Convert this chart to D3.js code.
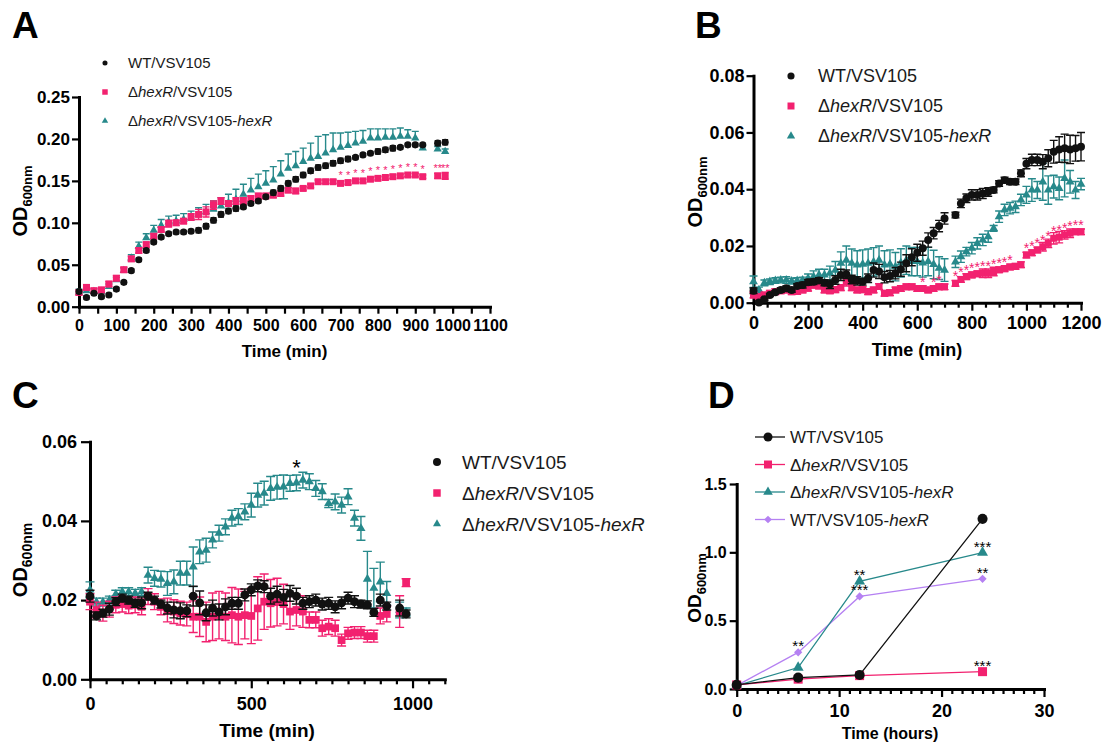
<!DOCTYPE html>
<html>
<head>
<meta charset="utf-8">
<script src="https://cdn.jsdelivr.net/npm/d3@7"></script>
<style>
  body { margin: 0; background: #fff; }
  svg { display: block; font-family: "Liberation Sans", Arial, sans-serif; }
</style>
</head>
<body>
<svg id="fig" width="1102" height="744"></svg>
<script>
// ---- strain names (legend) ----
var strainLabels = ["WT/VSV105", "Δ<i>hexR</i>/VSV105", "Δ<i>hexR</i>/VSV105-<i>hexR</i>", "WT/VSV105-<i>hexR</i>"];

// ---- panel A: growth, time in min ----
var aTime = [0,20,40,60,80,100,120,140,160,180,
  200,220,240,260,280,300,320,340,360,380,
  400,420,440,460,480,500,520,540,560,580,
  600,620,640,660,680,700,720,740,760,780,
  800,820,840,860,880,900,920,960,980];
var aWT = [0.018,0.011,0.016,0.012,0.014,0.021,0.029,0.043,0.056,0.067,
  0.077,0.083,0.087,0.089,0.089,0.090,0.091,0.096,0.103,0.110,
  0.114,0.117,0.119,0.123,0.126,0.131,0.136,0.141,0.147,0.152,
  0.157,0.162,0.166,0.168,0.171,0.174,0.176,0.178,0.181,0.183,
  0.185,0.187,0.189,0.190,0.193,0.193,0.193,0.195,0.196];
var aWTsd = [0.002,0.002,0.002,0.002,0.002,0.002,0.002,0.002,0.002,0.002,
  0.002,0.002,0.002,0.002,0.002,0.002,0.003,0.003,0.003,0.003,
  0.003,0.003,0.002,0.002,0.002,0.002,0.003,0.003,0.003,0.003,
  0.003,0.003,0.003,0.003,0.003,0.003,0.003,0.002,0.002,0.002,
  0.003,0.003,0.003,0.002,0.002,0.002,0.002,0.003,0.003];
var aDel = [0.017,0.023,0.019,0.020,0.027,0.034,0.044,0.057,0.067,0.074,
  0.084,0.092,0.099,0.100,0.102,0.107,0.110,0.113,0.121,0.126,
  0.123,0.126,0.126,0.129,0.132,0.132,0.133,0.135,0.139,0.138,
  0.141,0.144,0.149,0.149,0.149,0.147,0.148,0.150,0.150,0.152,
  0.153,0.154,0.155,0.156,0.157,0.157,0.155,0.156,0.156];
var aDelSd = [0.003,0.003,0.003,0.003,0.003,0.003,0.003,0.003,0.003,0.003,
  0.003,0.003,0.004,0.003,0.003,0.004,0.006,0.006,0.005,0.004,
  0.003,0.004,0.004,0.003,0.003,0.003,0.003,0.003,0.003,0.003,
  0.002,0.002,0.002,0.002,0.002,0.002,0.002,0.002,0.002,0.002,
  0.002,0.002,0.002,0.002,0.002,0.002,0.002,0.003,0.004];
var aComp = [0.017,0.019,0.018,0.018,0.024,0.032,0.043,0.058,0.072,0.082,
  0.091,0.097,0.101,0.102,0.104,0.106,0.110,0.113,0.116,0.120,
  0.124,0.128,0.134,0.139,0.143,0.147,0.151,0.158,0.165,0.168,
  0.173,0.177,0.179,0.183,0.187,0.190,0.192,0.195,0.197,0.201,
  0.201,0.202,0.202,0.203,0.203,0.201,0.189,0.188,0.185];
var aCompSd = [0.004,0.004,0.003,0.003,0.003,0.003,0.003,0.004,0.005,0.005,
  0.006,0.007,0.007,0.007,0.007,0.008,0.008,0.009,0.010,0.010,
  0.010,0.012,0.012,0.014,0.015,0.015,0.016,0.016,0.017,0.017,
  0.016,0.018,0.024,0.022,0.020,0.017,0.016,0.014,0.013,0.011,
  0.011,0.010,0.010,0.010,0.008,0.008,0.003,0.003,0.003];
var aStarTime = [700,720,740,760,780,800,820,840,860,880,900,920,960,980];
var aStarText = ["*","*","*","*","*","*","*","*","*","*","*","*","**","**"];

// ---- panel B ----
var bTime = [0,20,40,60,80,100,120,140,160,180,
  200,220,240,260,280,300,320,340,360,380,
  400,420,440,460,480,500,520,540,560,580,
  600,620,640,660,680,700,740,760,780,800,
  820,840,860,880,900,920,940,960,980,1000,
  1020,1040,1060,1080,1100,1120,1140,1160,1180,1200];
var bWT = [0.0042,0.0001,0.0012,0.0027,0.0037,0.0045,0.0051,0.0045,0.0059,0.0062,
  0.0072,0.0074,0.0078,0.0070,0.0065,0.0080,0.0098,0.0100,0.0082,0.0077,
  0.0074,0.0086,0.0115,0.0110,0.0090,0.0094,0.0104,0.0118,0.0139,0.0160,
  0.0176,0.0192,0.0221,0.0245,0.0270,0.0297,0.0309,0.0350,0.0368,0.0380,
  0.0380,0.0385,0.0390,0.0397,0.0420,0.0432,0.0426,0.0426,0.0456,0.0490,
  0.0503,0.0503,0.0497,0.0509,0.0532,0.0540,0.0544,0.0540,0.0544,0.0550];
var bWTsd = [0.001,0.0005,0.0005,0.0005,0.0005,0.0008,0.0008,0.0008,0.0008,0.001,
  0.001,0.001,0.001,0.001,0.0015,0.0015,0.002,0.0015,0.0015,0.0015,
  0.0012,0.0015,0.0025,0.0025,0.002,0.002,0.002,0.0025,0.003,0.003,
  0.003,0.0025,0.0025,0.002,0.002,0.002,0.001,0.0015,0.0015,0.0018,
  0.0018,0.0018,0.0015,0.001,0.001,0.001,0.001,0.001,0.0012,0.0018,
  0.002,0.002,0.0025,0.003,0.004,0.0045,0.005,0.005,0.0045,0.005];
var bDel = [0.0027,0.0021,0.0027,0.0033,0.0039,0.0042,0.0045,0.0039,0.0040,0.0045,
  0.0051,0.0062,0.0059,0.0045,0.0042,0.0046,0.0053,0.0074,0.0053,0.0045,
  0.0046,0.0039,0.0045,0.0057,0.0033,0.0035,0.0045,0.0050,0.0056,0.0056,
  0.0050,0.0050,0.0045,0.0050,0.0056,0.0056,0.0068,0.0082,0.0092,0.0098,
  0.0102,0.0104,0.0104,0.0110,0.0116,0.0120,0.0126,0.0128,0.0134,0.0168,
  0.0176,0.0186,0.0197,0.0209,0.0227,0.0231,0.0239,0.0245,0.0250,0.0250];
var bDelSd = [0.001,0.001,0.001,0.001,0.001,0.001,0.001,0.001,0.001,0.001,
  0.001,0.001,0.001,0.001,0.001,0.001,0.001,0.0015,0.001,0.001,
  0.001,0.001,0.001,0.001,0.001,0.001,0.001,0.001,0.001,0.001,
  0.001,0.001,0.001,0.001,0.001,0.001,0.001,0.001,0.001,0.001,
  0.001,0.0015,0.0015,0.0015,0.001,0.001,0.001,0.001,0.001,0.001,
  0.001,0.001,0.0015,0.0015,0.002,0.002,0.0015,0.0015,0.001,0.001];
var bComp = [0.0074,0.0045,0.0070,0.0074,0.0078,0.0080,0.0080,0.0076,0.0078,0.0080,
  0.0086,0.0092,0.0098,0.0098,0.0104,0.0115,0.0139,0.0150,0.0139,0.0133,
  0.0136,0.0139,0.0144,0.0150,0.0133,0.0136,0.0127,0.0140,0.0150,0.0145,
  0.0145,0.0140,0.0145,0.0135,0.0122,0.0115,0.0144,0.0162,0.0180,0.0192,
  0.0209,0.0221,0.0233,0.0262,0.0303,0.0327,0.0333,0.0338,0.0362,0.0380,
  0.0397,0.0397,0.0426,0.0397,0.0409,0.0403,0.0438,0.0426,0.0397,0.0418];
var bCompSd = [0.002,0.001,0.001,0.001,0.001,0.001,0.0012,0.001,0.001,0.001,
  0.0015,0.002,0.002,0.002,0.0025,0.003,0.004,0.005,0.005,0.005,
  0.005,0.005,0.005,0.005,0.005,0.005,0.005,0.005,0.005,0.005,
  0.005,0.005,0.005,0.005,0.004,0.004,0.002,0.002,0.0015,0.002,
  0.002,0.002,0.002,0.001,0.002,0.002,0.002,0.002,0.002,0.003,
  0.004,0.003,0.0065,0.005,0.004,0.004,0.0065,0.004,0.003,0.002];
var bStarTime = [620,660,680,740,760,780,800,820,840,860,880,900,920,940,
  1000,1020,1040,1060,1080,1100,1120,1140,1160,1180,1200];

// ---- panel C ----
var cTime = [0,20,40,60,80,100,120,140,160,180,
  200,220,240,260,280,300,320,340,360,380,
  400,420,440,460,480,500,520,540,560,580,
  600,620,640,660,680,700,720,740,760,780,
  800,820,840,860,880,900,920,960,980];
var cWT = [0.021,0.016,0.0167,0.0177,0.0196,0.0205,0.020,0.0192,0.0193,0.021,
  0.020,0.019,0.018,0.0175,0.0173,0.0173,0.021,0.0193,0.0168,0.018,
  0.017,0.0183,0.0192,0.0192,0.0213,0.0226,0.0236,0.0234,0.021,0.0215,
  0.0207,0.0217,0.021,0.0192,0.0196,0.020,0.019,0.0192,0.0183,0.0193,
  0.0205,0.0196,0.019,0.0188,0.0169,0.020,0.0185,0.018,0.0165];
var cWTsd = [0.0015,0.001,0.001,0.0015,0.001,0.001,0.001,0.001,0.0015,0.001,
  0.001,0.001,0.0015,0.002,0.002,0.0015,0.0025,0.003,0.002,0.002,
  0.002,0.002,0.0015,0.0015,0.0015,0.0015,0.0015,0.0015,0.002,0.002,
  0.002,0.002,0.002,0.0015,0.0015,0.0015,0.0015,0.0015,0.0015,0.0015,
  0.0015,0.0015,0.001,0.001,0.001,0.0015,0.001,0.002,0.001];
var cDel = [0.0196,0.0175,0.0167,0.0177,0.0188,0.019,0.0186,0.0188,0.0183,0.0209,
  0.0196,0.0183,0.0175,0.0171,0.0167,0.0165,0.0158,0.0158,0.0145,0.0158,
  0.0162,0.0158,0.0162,0.0158,0.0162,0.016,0.0179,0.0196,0.0192,0.0195,
  0.019,0.0171,0.0175,0.0171,0.015,0.015,0.0129,0.0133,0.0129,0.0099,
  0.0116,0.0118,0.0118,0.0109,0.0109,0.016,0.0165,0.0171,0.0244];
var cDelSd = [0.002,0.002,0.002,0.002,0.002,0.002,0.002,0.002,0.002,0.002,
  0.002,0.002,0.003,0.003,0.003,0.003,0.004,0.005,0.005,0.006,
  0.006,0.006,0.007,0.007,0.006,0.007,0.008,0.007,0.006,0.006,
  0.005,0.0045,0.004,0.004,0.002,0.002,0.002,0.002,0.002,0.0015,
  0.0015,0.0015,0.0015,0.0015,0.0015,0.002,0.002,0.004,0.001];
var cComp = [0.0226,0.0195,0.0195,0.020,0.0215,0.0221,0.0221,0.0217,0.0221,0.0263,
  0.0255,0.0253,0.0242,0.0246,0.0268,0.0268,0.0284,0.0322,0.0326,0.0352,
  0.0369,0.0385,0.0407,0.0411,0.0423,0.044,0.0465,0.047,0.0482,0.0485,
  0.0486,0.0495,0.0496,0.0503,0.0499,0.0482,0.0474,0.0444,0.0448,0.044,
  0.0461,0.0407,0.0381,0.0253,0.023,0.0246,0.0217,0.0175,0.017];
var cCompSd = [0.002,0.001,0.001,0.001,0.001,0.001,0.001,0.001,0.001,0.002,
  0.002,0.002,0.003,0.003,0.003,0.003,0.005,0.003,0.003,0.002,
  0.002,0.002,0.002,0.002,0.002,0.003,0.003,0.003,0.003,0.003,
  0.003,0.002,0.002,0.002,0.002,0.002,0.002,0.001,0.002,0.002,
  0.002,0.002,0.003,0.007,0.005,0.005,0.003,0.002,0.001];
var cStarTime = [640];

// ---- panel D: time in hours ----
var dTime = [0, 6, 12, 24];
var dWT = [0.030, 0.083, 0.103, 1.245];
var dDel = [0.030, 0.072, 0.098, 0.127];
var dComp = [0.025, 0.157, 0.787, 0.998];
var dWTComp = [0.025, 0.268, 0.677, 0.806];
// significance marks: which series (index in strainLabels), time, text
var dStarSeries = [3, 2, 3, 2, 3, 1];
var dStarTime = [6, 12, 12, 24, 24, 24];
var dStarText = ["**", "**", "***", "***", "**", "***"];

// ---- colours ----
var black = "#111111", pink = "#F2216F", teal = "#27898B", purple = "#B581F2";

var svg = d3.select("#fig");

// puts text with <i>..</i> parts as italic tspans
function richText(t, str) {
  str.split(/(<i>.*?<\/i>)/).forEach(function(part) {
    if (!part) return;
    var it = part.indexOf("<i>") === 0;
    t.append("tspan").attr("font-style", it ? "italic" : null).text(it ? part.slice(3, -4) : part);
  });
}

// axes with major + minor ticks, labels and titles
function drawAxes(p) {
  var g = svg.append("g");
  var x0 = p.x.range()[0], y0 = p.y.range()[0];
  var minor = p.xMinor.filter(function(v) { return p.xMajor.indexOf(v) < 0; });
  g.append("g").attr("transform", "translate(0," + y0 + ")")
    .call(d3.axisBottom(p.x).tickValues(minor).tickSize(p.minorLen).tickFormat(""))
    .call(function(a) { a.select(".domain").remove(); });
  var gx = g.append("g").attr("transform", "translate(0," + y0 + ")")
    .call(d3.axisBottom(p.x).tickValues(p.xMajor).tickSize(p.xLen).tickSizeOuter(0).tickPadding(p.xPad).tickFormat(d3.format("d")));
  var gy = g.append("g").attr("transform", "translate(" + x0 + ",0)")
    .call(d3.axisLeft(p.y).tickValues(p.yTicks).tickSize(p.yLen).tickSizeOuter(0).tickPadding(p.yPad).tickFormat(d3.format(p.yFmt)));
  gx.attr("font-size", p.xFs);
  gy.attr("font-size", p.yFs);
  g.selectAll("g").attr("font-family", null).attr("font-weight", "bold");
  g.selectAll(".domain").attr("stroke", "#000").attr("stroke-width", 3).attr("stroke-linecap", "square");
  g.selectAll(".tick line").attr("stroke", "#000").attr("stroke-width", 2.2);
  g.selectAll(".tick text").attr("fill", "#000");

  svg.append("text").attr("x", p.titleX).attr("y", p.titleY)
    .attr("text-anchor", "middle").attr("font-weight", "bold").attr("font-size", p.titleFs)
    .text(p.title);
  var od = svg.append("text").attr("transform", "translate(" + p.odX + "," + p.odY + ") rotate(-90)")
    .attr("text-anchor", "middle").attr("font-weight", "bold").attr("font-size", p.odFs);
  od.append("tspan").text("OD");
  od.append("tspan").attr("font-size", p.subFs).attr("dy", p.subFs * 0.38).text("600nm");
}

function panelLetter(txt, x, y) {
  svg.append("text").attr("x", x).attr("y", y).attr("font-weight", "bold").attr("font-size", 37).text(txt);
}

// one series: error bars then symbols
function drawSeries(x, y, times, vals, sds, o) {
  var pts = times.map(function(t, i) { return { t: t, v: vals[i], sd: sds ? sds[i] : 0 }; });
  var g = svg.append("g");
  if (sds) {
    g.selectAll("path.bar").data(pts).join("path").attr("class", "bar")
      .attr("d", function(d) {
        var cx = x(d.t), top = y(d.v + d.sd), bot = o.up ? y(d.v) : y(d.v - d.sd), c = o.cap / 2;
        var s = "M" + cx + "," + top + "V" + bot + "M" + (cx - c) + "," + top + "H" + (cx + c);
        if (!o.up) s += "M" + (cx - c) + "," + bot + "H" + (cx + c);
        return s;
      })
      .attr("fill", "none").attr("stroke", o.color).attr("stroke-width", 1.4);
  }
  g.selectAll("path.pt").data(pts).join("path").attr("class", "pt")
    .attr("transform", function(d) { return "translate(" + x(d.t) + "," + y(d.v) + ")" + (o.rot ? " rotate(45)" : ""); })
    .attr("d", d3.symbol(o.symbol, o.size)())
    .attr("fill", o.color);
}

function legend(rows, o) {
  rows.forEach(function(r, i) {
    var cy = o.y0 + i * o.dy;
    if (o.line) {
      svg.append("line").attr("x1", o.line[0]).attr("x2", o.line[1]).attr("y1", cy).attr("y2", cy)
        .attr("stroke", r.color).attr("stroke-width", 1.3);
    }
    svg.append("path").attr("transform", "translate(" + o.mx + "," + cy + ")" + (r.rot ? " rotate(45)" : ""))
      .attr("d", d3.symbol(r.symbol, r.size)()).attr("fill", r.color);
    var t = svg.append("text").attr("x", o.tx).attr("y", cy).attr("dy", "0.36em")
      .attr("font-size", o.fs).attr("fill", "#1a1a1a");
    richText(t, r.label);
  });
}

// ================= A =================
var xA = d3.scaleLinear().domain([0, 1100]).range([79, 490]);
var yA = d3.scaleLinear().domain([0, 0.25]).range([306.7, 97]);
drawAxes({ x: xA, y: yA, xMajor: d3.range(0, 1101, 100), xMinor: d3.range(50, 1100, 100),
  xLen: 7, minorLen: 7, xPad: 6, xFs: 16, yTicks: d3.range(0, 0.2501, 0.05), yLen: 7, yPad: 2, yFs: 17, yFmt: ".2f",
  title: "Time (min)", titleX: 284.5, titleY: 357, titleFs: 17, odX: 27, odY: 201, odFs: 20, subFs: 13 });
drawSeries(xA, yA, aTime, aComp, aCompSd, { color: teal, symbol: d3.symbolTriangle, size: 30, cap: 7, up: true });
drawSeries(xA, yA, aTime, aDel, aDelSd, { color: pink, symbol: d3.symbolSquare, size: 49, cap: 7 });
drawSeries(xA, yA, aTime, aWT, aWTsd, { color: black, symbol: d3.symbolCircle, size: 40, cap: 6 });
svg.append("g").selectAll("text").data(aStarTime).join("text")
  .attr("x", function(t) { return xA(t); })
  .attr("y", function(t, i) { return yA(aDel[aTime.indexOf(t)]) - 4; })
  .attr("text-anchor", "middle").attr("font-size", 11).attr("fill", pink)
  .text(function(t, i) { return aStarText[i]; });
legend([
  { label: strainLabels[0], color: black, symbol: d3.symbolCircle, size: 20 },
  { label: strainLabels[1], color: pink, symbol: d3.symbolSquare, size: 30 },
  { label: strainLabels[2], color: teal, symbol: d3.symbolTriangle, size: 18 }
], { y0: 63, dy: 29, mx: 105, tx: 128, fs: 15 });
panelLetter("A", 12, 38);

// ================= B =================
var xB = d3.scaleLinear().domain([0, 1200]).range([753.5, 1081]);
var yB = d3.scaleLinear().domain([0, 0.08]).range([302.7, 75.7]);
drawAxes({ x: xB, y: yB, xMajor: d3.range(0, 1201, 200), xMinor: d3.range(0, 1201, 50),
  xLen: 8, minorLen: 5, xPad: 6, xFs: 18, yTicks: d3.range(0, 0.0801, 0.02), yLen: 7, yPad: 2, yFs: 18, yFmt: ".2f",
  title: "Time (min)", titleX: 917, titleY: 356, titleFs: 18, odX: 702, odY: 192, odFs: 20, subFs: 13 });
drawSeries(xB, yB, bTime, bComp, bCompSd, { color: teal, symbol: d3.symbolTriangle, size: 34, cap: 8 });
drawSeries(xB, yB, bTime, bDel, bDelSd, { color: pink, symbol: d3.symbolSquare, size: 49, cap: 8 });
drawSeries(xB, yB, bTime, bWT, bWTsd, { color: black, symbol: d3.symbolCircle, size: 50, cap: 8 });
svg.append("g").selectAll("text").data(bStarTime).join("text")
  .attr("x", function(t) { return xB(t); })
  .attr("y", function(t) { return yB(bDel[bTime.indexOf(t)]) - 2; })
  .attr("text-anchor", "middle").attr("font-size", 14).attr("fill", pink)
  .text("*");
legend([
  { label: strainLabels[0], color: black, symbol: d3.symbolCircle, size: 40 },
  { label: strainLabels[1], color: pink, symbol: d3.symbolSquare, size: 49 },
  { label: strainLabels[2], color: teal, symbol: d3.symbolTriangle, size: 30 }
], { y0: 76, dy: 30, mx: 791, tx: 818, fs: 18 });
panelLetter("B", 695, 38);

// ================= C =================
var xC = d3.scaleLinear().domain([0, 1100]).range([90, 444.8]);
var yC = d3.scaleLinear().domain([0, 0.06]).range([679.3, 441.7]);
drawAxes({ x: xC, y: yC, xMajor: [0, 500, 1000], xMinor: d3.range(0, 1101, 50),
  xLen: 9, minorLen: 5, xPad: 9, xFs: 18, yTicks: d3.range(0, 0.0601, 0.02), yLen: 9, yPad: 4, yFs: 18, yFmt: ".2f",
  title: "Time (min)", titleX: 267, titleY: 737, titleFs: 19, odX: 27, odY: 560, odFs: 20, subFs: 14 });
drawSeries(xC, yC, cTime, cComp, cCompSd, { color: teal, symbol: d3.symbolTriangle, size: 36, cap: 9 });
drawSeries(xC, yC, cTime, cDel, cDelSd, { color: pink, symbol: d3.symbolSquare, size: 60, cap: 9 });
drawSeries(xC, yC, cTime, cWT, cWTsd, { color: black, symbol: d3.symbolCircle, size: 62, cap: 9 });
svg.append("g").selectAll("text").data(cStarTime).join("text")
  .attr("x", function(t) { return xC(t); })
  .attr("y", function(t) { return yC(cComp[cTime.indexOf(t)]) - 8; })
  .attr("text-anchor", "middle").attr("font-size", 22).attr("fill", "#000")
  .text("*");
legend([
  { label: strainLabels[0], color: black, symbol: d3.symbolCircle, size: 50 },
  { label: strainLabels[1], color: pink, symbol: d3.symbolSquare, size: 56 },
  { label: strainLabels[2], color: teal, symbol: d3.symbolTriangle, size: 28 }
], { y0: 462, dy: 31, mx: 437, tx: 462, fs: 19 });
panelLetter("C", 12, 408);

// ================= D =================
var xD = d3.scaleLinear().domain([0, 30]).range([736.7, 1044]);
var yD = d3.scaleLinear().domain([0, 1.5]).range([689, 484]);
drawAxes({ x: xD, y: yD, xMajor: [0, 10, 20, 30], xMinor: d3.range(0, 31, 1),
  xLen: 8, minorLen: 5, xPad: 7, xFs: 18, yTicks: [0, 0.5, 1, 1.5], yLen: 7, yPad: 3, yFs: 16, yFmt: ".1f",
  title: "Time (hours)", titleX: 890, titleY: 739, titleFs: 16, odX: 701, odY: 588, odFs: 19, subFs: 13 });
var dSeries = [
  { vals: dWTComp, color: purple, symbol: d3.symbolSquare, size: 34, rot: true },
  { vals: dComp, color: teal, symbol: d3.symbolTriangle, size: 52 },
  { vals: dDel, color: pink, symbol: d3.symbolSquare, size: 81 },
  { vals: dWT, color: black, symbol: d3.symbolCircle, size: 80 }
];
var lineD = d3.line().x(function(d, i) { return xD(dTime[i]); }).y(function(d) { return yD(d); });
dSeries.forEach(function(s) {
  svg.append("path").attr("d", lineD(s.vals)).attr("fill", "none").attr("stroke", s.color).attr("stroke-width", 1.3);
  drawSeries(xD, yD, dTime, s.vals, null, s);
});
var dVals = [dWT, dDel, dComp, dWTComp];
svg.append("g").selectAll("text").data(dStarTime).join("text")
  .attr("x", function(t) { return xD(t); })
  .attr("y", function(t, i) { return yD(dVals[dStarSeries[i]][dTime.indexOf(t)]) - 1; })
  .attr("text-anchor", "middle").attr("font-size", 15).attr("fill", "#000")
  .text(function(t, i) { return dStarText[i]; });
legend([
  { label: strainLabels[0], color: black, symbol: d3.symbolCircle, size: 64 },
  { label: strainLabels[1], color: pink, symbol: d3.symbolSquare, size: 64 },
  { label: strainLabels[2], color: teal, symbol: d3.symbolTriangle, size: 40 },
  { label: strainLabels[3], color: purple, symbol: d3.symbolSquare, size: 30, rot: true }
], { y0: 437, dy: 27.5, mx: 768, tx: 790, fs: 17, line: [755, 785] });
panelLetter("D", 708, 408);
</script>
</body>
</html>
